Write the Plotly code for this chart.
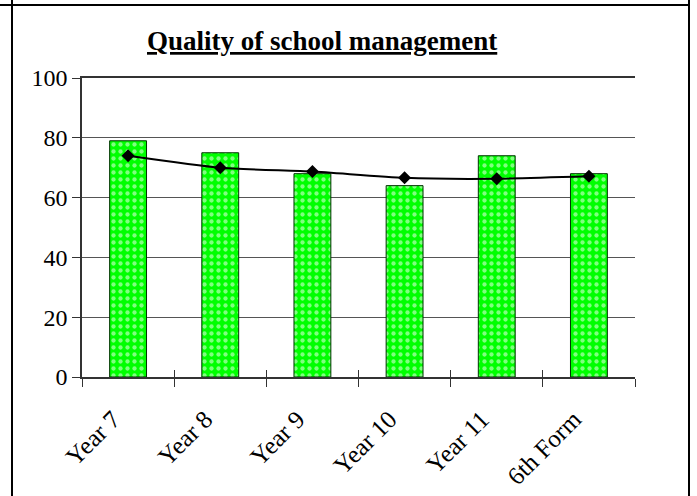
import plotly.graph_objects as go

# Data
categories = ["Year 7", "Year 8", "Year 9", "Year 10", "Year 11", "6th Form"]
bar_values = [79, 75, 68, 64, 74, 68]
line_values = [74, 70, 68.7, 66.6, 66.3, 67.1]
y_ticks = [0, 20, 40, 60, 80, 100]

W, H = 697, 496
FONT = "Liberation Serif, Times New Roman, serif"

fig = go.Figure()

fig.add_trace(go.Bar(
    x=categories, y=bar_values, width=0.4,
    marker=dict(
        color="#00FF00",
        line=dict(color="#003300", width=1),
        pattern=dict(shape=".", fgcolor="white", bgcolor="#00FF00",
                     size=7, solidity=0.3),
    ),
    showlegend=False, hoverinfo="x+y",
))

fig.add_trace(go.Scatter(
    x=categories, y=line_values, mode="lines+markers",
    line=dict(color="black", width=2, shape="spline", smoothing=0.6),
    marker=dict(symbol="diamond", size=10, color="black"),
    showlegend=False,
))

# invisible companion trace so the overlaid axis can draw inward boundary ticks
fig.add_trace(go.Scatter(
    x=categories, y=bar_values, xaxis="x2", mode="markers",
    marker=dict(opacity=0), showlegend=False, hoverinfo="skip",
))

x0, x1 = 82 / W, 635 / W
y0, y1 = 1 - 377 / H, 1 - 78 / H

fig.update_layout(
    width=W, height=H,
    margin=dict(l=0, r=0, t=0, b=0, autoexpand=False),
    paper_bgcolor="white", plot_bgcolor="white",
    font=dict(family=FONT, color="black", size=20),
    xaxis=dict(
        domain=[x0, x1], type="category", categoryorder="array",
        categoryarray=categories, automargin=False,
        showline=True, linecolor="#333", linewidth=1.5, mirror=True,
        ticks="outside", tickson="boundaries", ticklen=8, tickcolor="#333",
        tickangle=-45, tickfont=dict(size=25, family=FONT),
        ticklabelshift=-15, ticklabelstandoff=16,
        showgrid=False, zeroline=False,
    ),
    xaxis2=dict(
        domain=[x0, x1], overlaying="x", anchor="y", type="category",
        categoryorder="array", categoryarray=categories, automargin=False,
        ticks="inside", tickson="boundaries", ticklen=7, tickcolor="#333",
        showticklabels=False, showgrid=False, showline=False, zeroline=False,
        matches="x",
    ),
    yaxis=dict(
        domain=[y0, y1], range=[0, 100], tickvals=y_ticks, automargin=False,
        showline=True, linecolor="#333", linewidth=1.5,
        ticks="outside", ticklen=8, tickcolor="#333",
        showgrid=True, gridcolor="#555", gridwidth=1,
        zeroline=False, tickfont=dict(size=24, family=FONT),
    ),
    annotations=[dict(
        text="<b><u>Quality of school management</u></b>",
        x=322 / W, y=1 - 41 / H, xref="paper", yref="paper",
        xanchor="center", yanchor="middle", showarrow=False,
        font=dict(size=27, family=FONT, color="black"),
    )],
    shapes=[
        dict(type="line", xref="paper", yref="paper",
             x0=0, x1=689 / W, y0=1 - 5 / H, y1=1 - 5 / H,
             line=dict(color="black", width=2)),
        dict(type="line", xref="paper", yref="paper",
             x0=12 / W, x1=12 / W, y0=0, y1=1,
             line=dict(color="black", width=2)),
        dict(type="line", xref="paper", yref="paper",
             x0=689 / W, x1=689 / W, y0=0, y1=1,
             line=dict(color="black", width=2)),
    ],
)

fig.write_html("out.html")
